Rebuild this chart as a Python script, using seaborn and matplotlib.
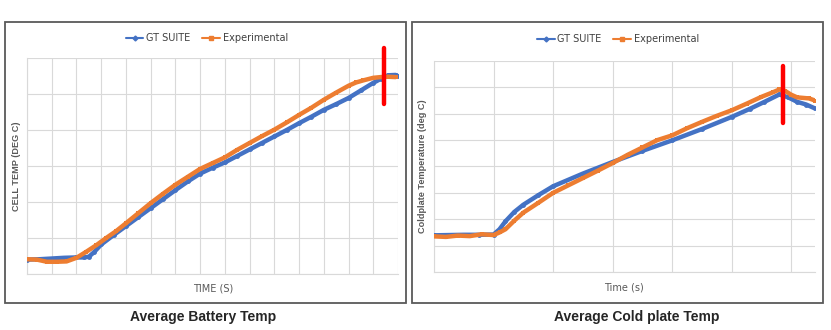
import matplotlib
matplotlib.use("Agg")
import matplotlib.pyplot as plt
from matplotlib.patches import Rectangle
from matplotlib.lines import Line2D
import seaborn as sns
import pandas as pd

# ---------------- data (grid units) ----------------
bat_gt_x = [0, 0.5, 1, 1.5, 2, 2.3, 2.5, 2.7, 3.0, 3.5, 4, 4.5, 5, 5.5, 6, 6.5, 7, 7.5, 8,
            8.5, 9, 9.5, 10, 10.5, 11, 11.5, 12, 12.5, 13, 13.5, 14, 14.3, 14.6, 14.9, 15.0]
bat_gt_y = [0.40, 0.41, 0.43, 0.45, 0.46, 0.46, 0.48, 0.60, 0.82, 1.08, 1.33, 1.58, 1.83, 2.08,
            2.33, 2.57, 2.79, 2.95, 3.10, 3.28, 3.46, 3.64, 3.82, 4.00, 4.19, 4.37, 4.56, 4.72,
            4.89, 5.10, 5.31, 5.42, 5.52, 5.53, 5.49]
bat_ex_x = [0, 0.4, 0.8, 1.2, 1.6, 2.0, 2.4, 2.8, 3.2, 3.6, 4.0, 4.5, 5.0, 5.5, 6.0, 6.5, 7.0,
            7.5, 8.0, 8.5, 9.0, 9.5, 10, 10.5, 11, 11.5, 12, 12.5, 13, 13.3, 13.6, 14.0, 14.3,
            14.6, 14.9]
bat_ex_y = [0.41, 0.40, 0.34, 0.34, 0.35, 0.45, 0.62, 0.80, 1.00, 1.19, 1.41, 1.69, 1.97, 2.23,
            2.48, 2.70, 2.92, 3.08, 3.24, 3.45, 3.64, 3.83, 4.01, 4.21, 4.42, 4.62, 4.84, 5.04,
            5.23, 5.32, 5.38, 5.45, 5.47, 5.48, 5.47]

cp_gt_x = [0, 0.25, 0.5, 0.75, 1.0, 1.1, 1.2, 1.35, 1.5, 1.75, 2.0, 2.5, 3.0, 3.5, 4.0, 4.5,
           5.0, 5.3, 5.55, 5.8, 5.95, 6.1, 6.25, 6.4]
cp_gt_y = [1.39, 1.40, 1.41, 1.41, 1.42, 1.62, 1.92, 2.28, 2.55, 2.91, 3.25, 3.73, 4.17, 4.59,
           4.99, 5.42, 5.88, 6.18, 6.45, 6.73, 6.62, 6.45, 6.35, 6.20]
cp_ex_x = [0, 0.2, 0.4, 0.6, 0.8, 1.0, 1.1, 1.2, 1.35, 1.5, 1.75, 2.0, 2.25, 2.5, 2.75, 3.0,
           3.25, 3.5, 3.75, 4.0, 4.25, 4.5, 4.75, 5.0, 5.25, 5.5, 5.7, 5.8, 5.9, 6.0, 6.1, 6.2,
           6.3, 6.4]
cp_ex_y = [1.35, 1.33, 1.38, 1.36, 1.43, 1.40, 1.50, 1.62, 1.95, 2.25, 2.62, 3.00, 3.28, 3.56,
           3.84, 4.13, 4.44, 4.72, 5.00, 5.18, 5.45, 5.69, 5.92, 6.13, 6.38, 6.64, 6.82, 6.92,
           6.86, 6.72, 6.62, 6.60, 6.58, 6.50]

series_names = ["GT SUITE", "Experimental"]
panel_titles = ["Average Battery Temp", "Average Cold plate Temp"]
x_labels = ["TIME (S)", "Time (s)"]
y_labels = ["CELL TEMP (DEG C)", "Coldplate Temperature (deg C)"]
bat_marker_x = 14.45
cp_marker_x = 5.86

BLUE = "#4472C4"
ORANGE = "#ED7D31"
NARROW = ["Liberation Sans Narrow", "DejaVu Sans"]

sns.set_style("white")
plt.rcParams["font.family"] = ["Liberation Sans", "DejaVu Sans"]

fig = plt.figure(figsize=(8.31, 3.30), dpi=100)

# panel frames
for (fx, fw) in [(0.006, 0.4826), (0.4958, 0.4946)]:
    fig.patches.append(Rectangle((fx, 0.0818), fw, 0.8515, transform=fig.transFigure,
                                 fill=False, edgecolor="#595959", linewidth=1.3))

ax1 = fig.add_axes([0.0325, 0.1697, 0.4465, 0.6545])
ax2 = fig.add_axes([0.5223, 0.1758, 0.4585, 0.6394])


def draw(ax, gx, gy, ex, ey, xmax, ymax):
    dgt = pd.DataFrame({"x": gx, "y": gy})
    dex = pd.DataFrame({"x": ex, "y": ey})
    sns.lineplot(data=dgt, x="x", y="y", ax=ax, color=BLUE, linewidth=3.2, marker="o",
                 markersize=3.5, markeredgewidth=0, zorder=3, sort=False)
    sns.lineplot(data=dex, x="x", y="y", ax=ax, color=ORANGE, linewidth=3.2, marker="s",
                 markersize=3.5, markeredgewidth=0, zorder=4, sort=False)
    ax.set_xlim(0, xmax)
    ax.set_ylim(0, ymax)
    ax.set_xticks(range(0, int(xmax) + 1))
    ax.set_yticks(range(0, int(ymax) + 1))
    ax.tick_params(length=0, labelbottom=False, labelleft=False)
    ax.grid(True, color="#d9d9d9", linewidth=0.8)
    ax.set_axisbelow(True)
    for s in ["top", "right"]:
        ax.spines[s].set_visible(False)
    for s in ["left", "bottom"]:
        ax.spines[s].set_color("#d9d9d9")
        ax.spines[s].set_linewidth(0.8)


draw(ax1, bat_gt_x, bat_gt_y, bat_ex_x, bat_ex_y, 15, 6)
draw(ax2, cp_gt_x, cp_gt_y, cp_ex_x, cp_ex_y, 6.4, 8)

# red markers
ax1.axvline(bat_marker_x, ymin=0.787, ymax=1.046, color="#FF0000", linewidth=3.2,
            clip_on=False, zorder=6)
ax2.axvline(cp_marker_x, ymin=0.706, ymax=0.976, color="#FF0000", linewidth=3.2,
            clip_on=False, zorder=6)

# labels
for ax, xl, yl, xlc, ylc, yw in [
    (ax1, x_labels[0], y_labels[0], (0.501, -0.046), (-0.016, 0.5), "bold"),
    (ax2, x_labels[1], y_labels[1], (0.499, -0.052), (-0.018, 0.5), "bold"),
]:
    ax.set_xlabel(xl, fontsize=7, color="#595959", family=NARROW)
    ax.xaxis.set_label_coords(*xlc)
    ax.set_ylabel(yl, fontsize=6.6, color="#595959", fontweight=yw)
    ax.yaxis.set_label_coords(*ylc)

# legends
handles = [Line2D([], [], color=BLUE, marker="D", markersize=2.5, linewidth=1.5),
           Line2D([], [], color=ORANGE, marker="s", markersize=3, linewidth=1.5)]
for ax, anchor in [(ax1, (0.485, 1.093)), (ax2, (0.483, 1.104))]:
    ax.legend(handles, series_names, loc="center", bbox_to_anchor=anchor, ncol=2,
              frameon=False, prop={"family": NARROW, "size": 7}, handlelength=1.8,
              handletextpad=0.3, columnspacing=1.2, labelcolor="#404040")

# panel titles
fig.text(0.244, 0.039, panel_titles[0], ha="center", va="center", fontsize=10,
         fontweight="bold", color="#262626")
fig.text(0.7665, 0.039, panel_titles[1], ha="center", va="center", fontsize=10,
         fontweight="bold", color="#262626")

fig.savefig("out.png", dpi=100)
